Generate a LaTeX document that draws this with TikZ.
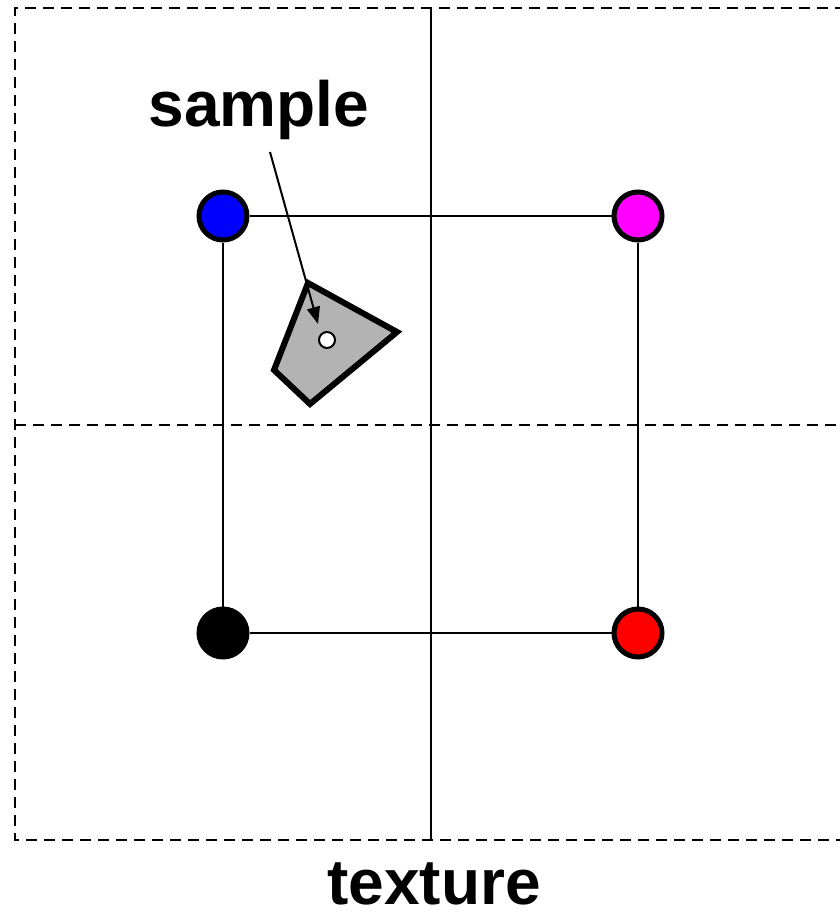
\documentclass[tikz,border=0pt]{standalone}
\usepackage{fontspec}
\setmainfont{Liberation Sans}
\usetikzlibrary{arrows.meta, positioning}
\definecolor{cblue}{HTML}{0000FF}
\definecolor{cmag}{HTML}{FF00FF}
\definecolor{cred}{HTML}{FF0000}
\definecolor{cpoly}{HTML}{B3B3B3}

\begin{document}
\begin{tikzpicture}[
  x=1pt, y=-1pt,
  font=\fontsize{64}{72}\selectfont\bfseries,
  grid/.style={line width=2.5pt, dash pattern=on 11pt off 7pt},
  edge/.style={line width=2.5pt},
  texel/.style={circle, draw, line width=5pt, minimum size=48pt, inner sep=0pt},
  arr/.style={-{Triangle[length=17pt, width=13pt]}, line width=2pt},
  ]
\useasboundingbox (0,0) rectangle (840,915);

% texel grid
\draw[grid] (846,8) -- (15,8) -- (15,840) -- (846,840);
\draw[grid] (15,425) -- (846,425);
\draw[edge] (431,8) -- (431,840);

% texels
\node[texel, fill=cblue] (tb) at (223,216) {};
\node[texel, fill=cmag] (tm) at (638,216) {};
\node[texel, fill=black] (tk) at (223,633) {};
\node[texel, fill=cred] (tr) at (638,633) {};

\draw[edge] (tb) -- (tm);
\draw[edge] (tm) -- (tr);
\draw[edge] (tr) -- (tk);
\draw[edge] (tk) -- (tb);

% footprint of the sample
\draw[line width=6pt, fill=cpoly] (308,283) -- (397,332) -- (310,404) -- (274,370) -- cycle;
\node[circle, draw, fill=white, line width=2pt, minimum size=16pt, inner sep=0pt] (pt) at (327,340) {};

% labels
\node[anchor=base, inner sep=0pt] (sample) at (259,127) {sample};
\node[anchor=base, inner sep=0pt] (texture) at (434,904) {texture};

\coordinate (tail) at (270,152);
\coordinate (tip) at (318,324);
\draw[arr] (tail) -- (tip);
\end{tikzpicture}
\end{document}
